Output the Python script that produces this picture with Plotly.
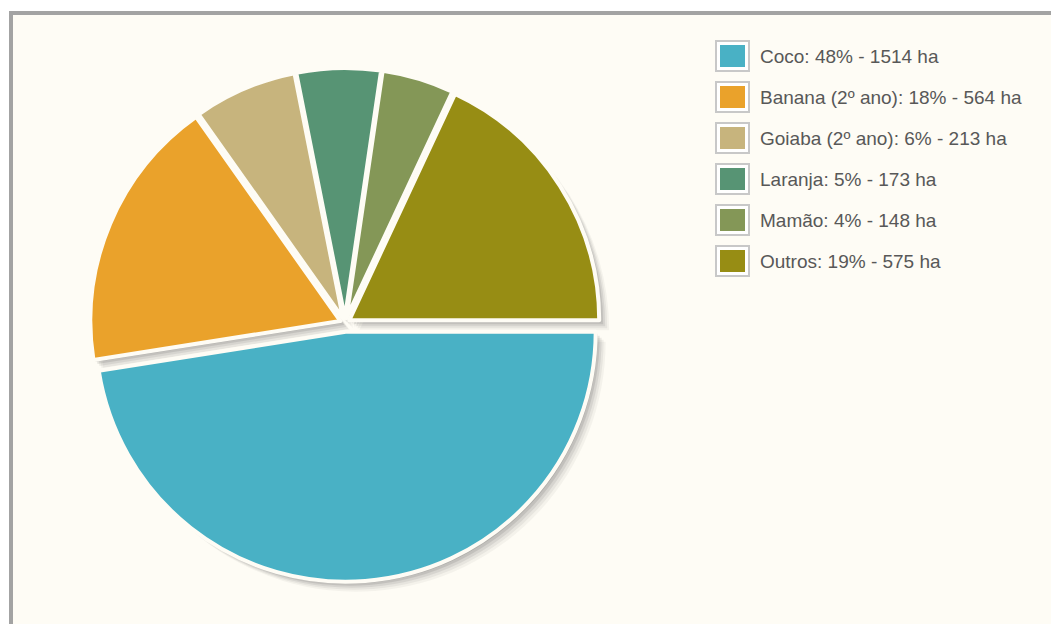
import plotly.graph_objects as go

# ---- data ----
categories = ["Coco", "Banana (2º ano)", "Goiaba (2º ano)", "Laranja", "Mamão", "Outros"]
area_ha = [1514, 564, 213, 173, 148, 575]
pct_labels = ["48%", "18%", "6%", "5%", "4%", "19%"]
colors = ["#49b1c5", "#eaa22b", "#c7b47d", "#579474", "#849757", "#978d14"]
pulls = [0.035, 0.02, 0.02, 0.02, 0.02, 0.02]

W, H = 1051, 624
BG = "#fefcf5"

# pie geometry in pixels
cx, cy, R = 345, 323, 250
half = R * (1 + max(pulls))


def dom(dx=0, dy=0):
    x0 = (cx + dx - half) / W
    x1 = (cx + dx + half) / W
    yb = H - (cy + dy)
    y0 = (yb - half) / H
    y1 = (yb + half) / H
    return dict(x=[x0, x1], y=[y0, y1])


fig = go.Figure()

# soft shadow layers
for off, a in [(10, 0.04), (8, 0.05), (6, 0.07), (4, 0.09), (2, 0.10)]:
    fig.add_trace(go.Pie(
        labels=categories, values=area_ha, sort=False, direction="clockwise",
        rotation=90, pull=pulls, textinfo="none", hoverinfo="skip",
        marker=dict(colors=[f"rgba(0,0,0,{a})"] * len(area_ha), line=dict(width=0)),
        domain=dom(off, off), showlegend=False,
    ))

# main pie
fig.add_trace(go.Pie(
    labels=categories, values=area_ha, sort=False, direction="clockwise",
    rotation=90, pull=pulls, textinfo="none",
    marker=dict(colors=colors, line=dict(color=BG, width=4)),
    domain=dom(), showlegend=False,
    hovertemplate="%{label}: %{value} ha<extra></extra>",
))

shapes = []
annotations = []

# frame
shapes.append(dict(type="rect", xref="paper", yref="paper", layer="below",
                   x0=11 / W, x1=1.05, y0=-0.05, y1=1 - 13 / H,
                   fillcolor=BG, line=dict(color="#a3a3a3", width=4)))

# manual legend
row0, step = 56, 41
for i, (cat, p, ha, col) in enumerate(zip(categories, pct_labels, area_ha, colors)):
    yc = row0 + i * step
    shapes.append(dict(type="rect", xref="paper", yref="paper",
                       x0=716 / W, x1=749 / W, y0=1 - (yc + 15) / H, y1=1 - (yc - 15) / H,
                       fillcolor="#ffffff", line=dict(color="#c8c8c8", width=2)))
    shapes.append(dict(type="rect", xref="paper", yref="paper",
                       x0=720 / W, x1=745 / W, y0=1 - (yc + 11) / H, y1=1 - (yc - 11) / H,
                       fillcolor=col, line=dict(width=0)))
    annotations.append(dict(xref="paper", yref="paper", x=758 / W, y=1 - yc / H,
                            xanchor="left", yanchor="middle", showarrow=False,
                            text=f"{cat}: {p} - {ha} ha",
                            font=dict(family="Liberation Sans, Arial, sans-serif",
                                      size=19, color="#585858")))

fig.update_layout(
    width=W, height=H, autosize=False,
    margin=dict(l=0, r=0, t=0, b=0),
    paper_bgcolor="#ffffff", plot_bgcolor=BG,
    shapes=shapes, annotations=annotations,
    showlegend=False,
)

fig.write_html("out.html")
